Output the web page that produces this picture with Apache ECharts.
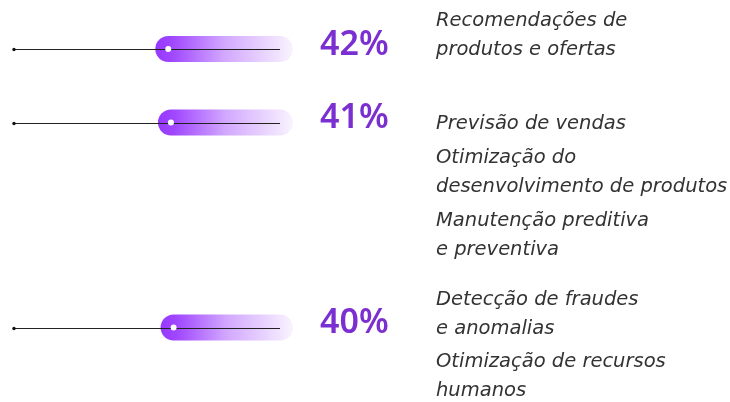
<!DOCTYPE html>
<html>
<head>
<meta charset="utf-8">
<script src="https://cdn.jsdelivr.net/npm/echarts@6/dist/echarts.min.js"></script>
<style>
  html, body { margin: 0; padding: 0; background: #fff; }
  #chart { width: 730px; height: 402px; }
</style>
</head>
<body>
<div id="chart"></div>
<script>
// valores por linha (percentual)
var values = [42, 41, 40];
// casos de uso agrupados por linha
var labelGroups = [
    ['Recomendações de\nprodutos e ofertas'],
    ['Previsão de vendas', 'Otimização do\ndesenvolvimento de produtos', 'Manutenção preditiva\ne preventiva'],
    ['Detecção de fraudes\ne anomalias', 'Otimização de recursos\nhumanos']
];

// layout
var rowY = [49, 122.5, 327.5];
var labelBaseY = [28, 131, 165, 228, 307, 369];
var PILL_R = 13;

var chart = echarts.init(document.getElementById('chart'));

var pillFill = new echarts.graphic.LinearGradient(0, 0, 1, 0, [
    {offset: 0, color: 'rgba(150,56,255,1)'},
    {offset: 0.12, color: 'rgba(155,61,255,0.95)'},
    {offset: 0.5, color: 'rgba(155,61,255,0.45)'},
    {offset: 1, color: 'rgba(155,61,255,0.06)'}
]);

function renderRow(params, api) {
    var v = api.value(0);
    var p = api.coord([v, 0]);
    var p0 = api.coord([0, 0]);
    var p100 = api.coord([100, 0]);
    var y = Math.round(p[1]) + 0.5;
    return {
        type: 'group',
        children: [
            {
                type: 'rect',
                shape: {x: p[0] - PILL_R, y: p[1] - PILL_R, width: p0[0] - p[0] + 2 * PILL_R, height: 2 * PILL_R, r: PILL_R},
                style: {fill: pillFill}
            },
            {
                type: 'line',
                shape: {x1: p100[0], y1: y, x2: p0[0], y2: y},
                style: {stroke: '#222', lineWidth: 1}
            },
            {
                type: 'circle',
                shape: {cx: p100[0], cy: y, r: 1.7},
                style: {fill: '#111'}
            },
            {
                type: 'circle',
                shape: {cx: p[0], cy: p[1], r: 3},
                style: {fill: '#fff'}
            },
            {
                type: 'text',
                x: p0[0] + 40,
                y: p[1] - 4,
                style: {
                    text: v + '%',
                    fill: '#7b2fd0',
                    font: '600 34px "Noto Sans"',
                    align: 'left',
                    verticalAlign: 'middle'
                }
            }
        ]
    };
}

var grids = [], xAxes = [], yAxes = [], series = [];
values.forEach(function (v, i) {
    grids.push({left: 14, width: 266, top: rowY[i] - PILL_R, height: 2 * PILL_R});
    xAxes.push({type: 'value', gridIndex: i, min: 0, max: 100, inverse: true, show: false});
    yAxes.push({type: 'category', gridIndex: i, data: [String(i)], show: false});
    series.push({
        type: 'custom',
        xAxisIndex: i,
        yAxisIndex: i,
        renderItem: renderRow,
        clip: false,
        silent: true,
        data: [[v, 0]]
    });
});

// textos à direita
var texts = [];
var k = 0;
labelGroups.forEach(function (group) {
    group.forEach(function (t) {
        texts.push({
            type: 'text',
            left: 436,
            top: labelBaseY[k] - 7 - 14.5,
            style: {
                text: t,
                fill: '#333',
                font: 'italic 19.5px "DejaVu Sans"',
                lineHeight: 29,
                verticalAlign: 'top'
            }
        });
        k++;
    });
});

chart.setOption({
    animation: false,
    grid: grids,
    xAxis: xAxes,
    yAxis: yAxes,
    series: series,
    graphic: texts
});
</script>
</body>
</html>
